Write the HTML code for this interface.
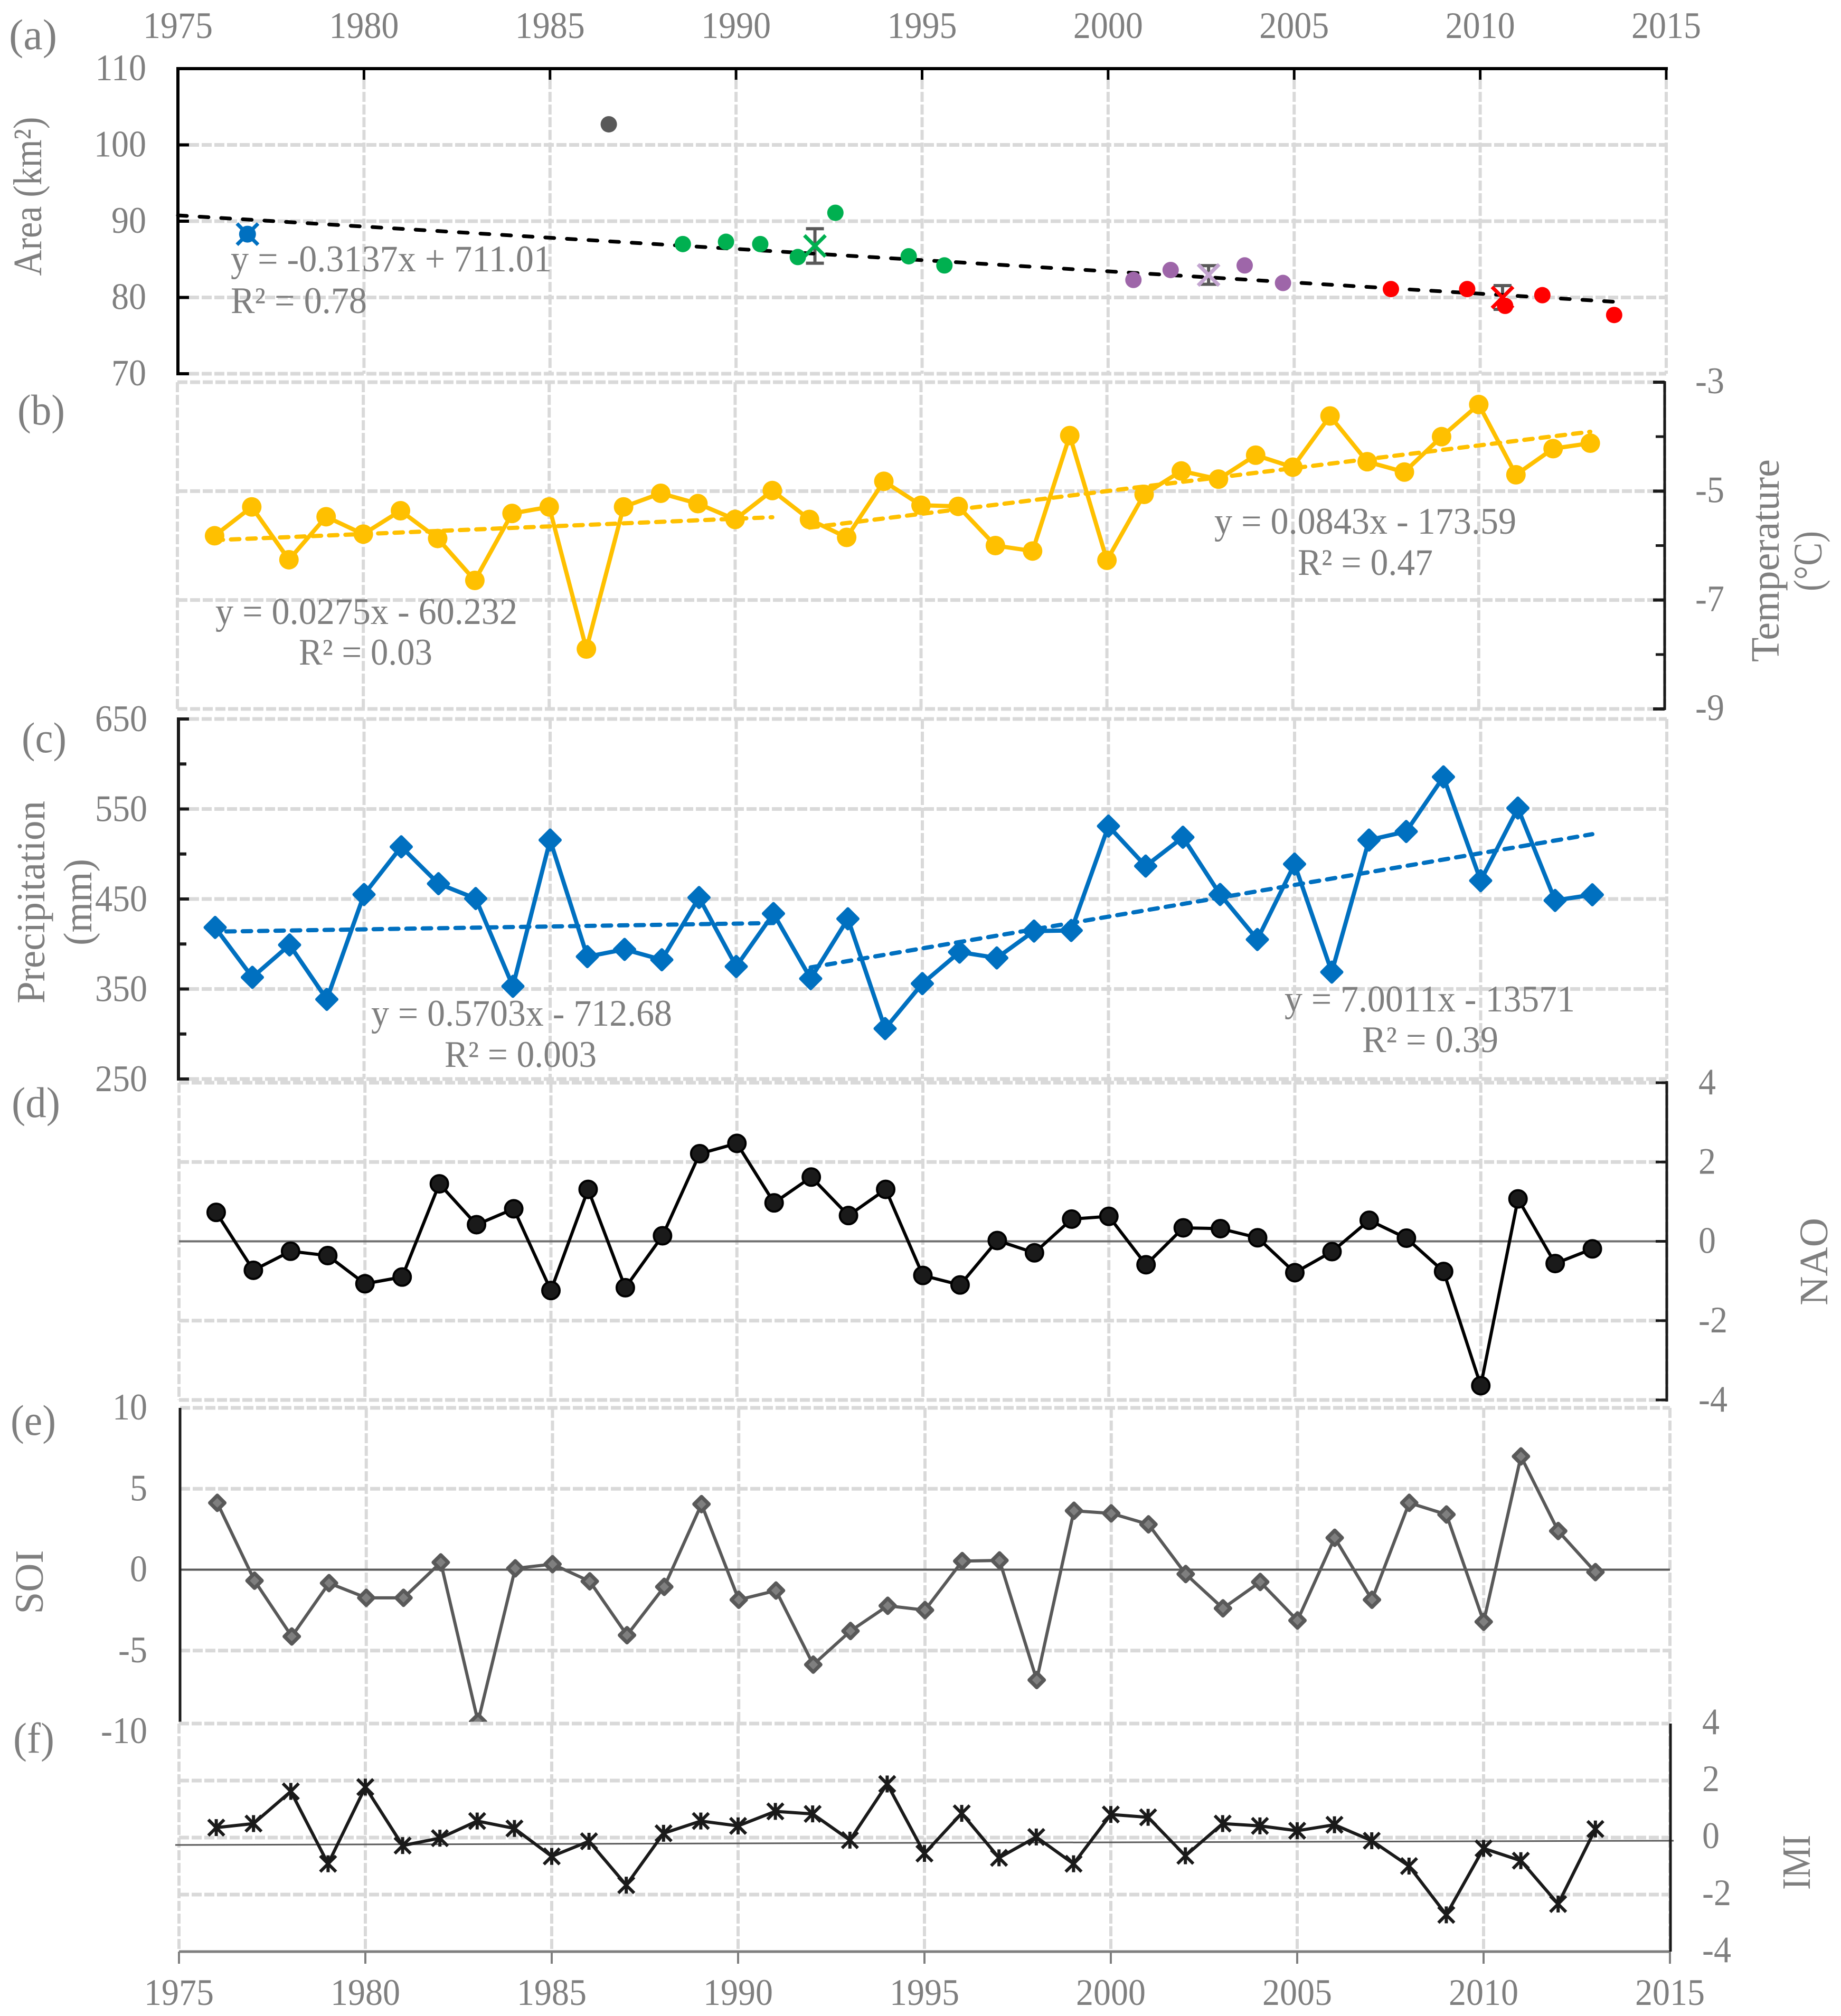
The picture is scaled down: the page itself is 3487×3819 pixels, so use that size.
<!DOCTYPE html>
<html lang="en">
<head>
<meta charset="utf-8">
<title>Climate and area time series 1975-2015</title>
<style>
html,body{margin:0;padding:0;background:#fff;}
svg{display:block;}
text{font-family:"Liberation Serif","Times New Roman",serif;fill:#7f7f7f;}
</style>
</head>
<body>
<svg id="chart" xmlns="http://www.w3.org/2000/svg" width="3487" height="3819" viewBox="0 0 3487 3819">
<defs><clipPath id="soi-clip"><rect x="300" y="2640" width="2900" height="622"></rect></clipPath></defs>
<rect x="0" y="0" width="3487" height="3819" fill="#fff"></rect>
<g id="layer-marks"></g>
<g font-size="71">
<text x="17" y="93" font-size="82" textLength="91" lengthAdjust="spacingAndGlyphs">(a)</text>
<text x="33" y="804" font-size="82" textLength="90" lengthAdjust="spacingAndGlyphs">(b)</text>
<text x="41" y="1425" font-size="82" textLength="85" lengthAdjust="spacingAndGlyphs">(c)</text>
<text x="22" y="2116" font-size="82" textLength="92" lengthAdjust="spacingAndGlyphs">(d)</text>
<text x="20" y="2718" font-size="82" textLength="86" lengthAdjust="spacingAndGlyphs">(e)</text>
<text x="25" y="3320" font-size="82" textLength="78" lengthAdjust="spacingAndGlyphs">(f)</text>

<text x="437" y="514" textLength="608" lengthAdjust="spacingAndGlyphs">y = -0.3137x + 711.01</text>
<text x="437" y="593" textLength="258" lengthAdjust="spacingAndGlyphs">R² = 0.78</text>
<text x="408" y="1182" textLength="572" lengthAdjust="spacingAndGlyphs">y = 0.0275x - 60.232</text>
<text x="566" y="1259" textLength="253" lengthAdjust="spacingAndGlyphs">R² = 0.03</text>
<text x="2300" y="1011" textLength="572" lengthAdjust="spacingAndGlyphs">y = 0.0843x - 173.59</text>
<text x="2458" y="1089" textLength="256" lengthAdjust="spacingAndGlyphs">R² = 0.47</text>
<text x="703" y="1943" textLength="570" lengthAdjust="spacingAndGlyphs">y = 0.5703x - 712.68</text>
<text x="842" y="2021" textLength="288" lengthAdjust="spacingAndGlyphs">R² = 0.003</text>
<text x="2433" y="1916" textLength="550" lengthAdjust="spacingAndGlyphs">y = 7.0011x - 13571</text>
<text x="2580" y="1993" textLength="258" lengthAdjust="spacingAndGlyphs">R² = 0.39</text>

<text font-size="76" text-anchor="middle" transform="translate(78 372) rotate(-90)" textLength="301" lengthAdjust="spacingAndGlyphs">Area (km²)</text>
<text font-size="76" text-anchor="middle" transform="translate(3369 1062) rotate(-90)" textLength="384" lengthAdjust="spacingAndGlyphs">Temperature</text>
<text font-size="76" text-anchor="middle" transform="translate(3450 1063) rotate(-90)" textLength="114" lengthAdjust="spacingAndGlyphs">(°C)</text>
<text font-size="76" text-anchor="middle" transform="translate(84 1709) rotate(-90)" textLength="384" lengthAdjust="spacingAndGlyphs">Precipitation</text>
<text font-size="76" text-anchor="middle" transform="translate(173 1709) rotate(-90)" textLength="164" lengthAdjust="spacingAndGlyphs">(mm)</text>
<text font-size="76" text-anchor="middle" transform="translate(3461 2390) rotate(-90)" textLength="166" lengthAdjust="spacingAndGlyphs">NAO</text>
<text font-size="76" text-anchor="middle" transform="translate(81 2997) rotate(-90)" textLength="121" lengthAdjust="spacingAndGlyphs">SOI</text>
<text font-size="76" text-anchor="middle" transform="translate(3428 3528) rotate(-90)" textLength="104" lengthAdjust="spacingAndGlyphs">IMI</text>
</g>
</svg>
<script>
// ---------- shared categories and tick labels ----------
const years = [1976,1977,1978,1979,1980,1981,1982,1983,1984,1985,1986,1987,1988,1989,1990,1991,1992,1993,1994,1995,1996,1997,1998,1999,2000,2001,2002,2003,2004,2005,2006,2007,2008,2009,2010,2011,2012,2013];
const xTickYears = [1975,1980,1985,1990,1995,2000,2005,2010,2015];
const areaTicks = [110,100,90,80,70];
const temperatureTicks = [-3,-5,-7,-9];
const temperatureMinorTicks = [-4,-6,-8];
const precipitationTicks = [650,550,450,350,250];
const precipitationMinorTicks = [600,500,400,300];
const naoTicks = [4,2,0,-2,-4];
const soiTicks = [10,5,0,-5,-10];
const imiTicks = [4,2,0,-2,-4];

// ---------- panel (a) area ----------
const outlierYears = [1986.58];
const outlierAreas = [102.7];
const greenYears = [1988.57,1989.73,1990.65,1991.66,1992.67,1994.64,1995.6];
const greenAreas = [87.0,87.3,87.0,85.3,91.1,85.4,84.2];
const purpleYears = [2000.68,2001.68,2003.67,2004.7];
const purpleAreas = [82.3,83.6,84.2,81.9];
const redYears = [2007.6,2009.65,2010.67,2011.67,2013.6];
const redAreas = [81.1,81.1,78.9,80.3,77.7];
const meanYears = [1976.87,1992.12,2002.7,2010.6];
const meanAreas = [88.3,86.75,82.95,80.0];
const meanErrors = [0.5,2.26,1.22,1.56];
const areaTrendYears = [1975,2013.9];
const areaTrendValues = [90.76,79.35];

// ---------- panel (b) temperature ----------
const temperature = [-5.82,-5.29,-6.26,-5.47,-5.79,-5.36,-5.87,-6.64,-5.41,-5.29,-7.90,-5.29,-5.04,-5.23,-5.52,-4.99,-5.52,-5.85,-4.82,-5.26,-5.28,-6.0,-6.10,-3.98,-6.27,-5.06,-4.63,-4.78,-4.34,-4.56,-3.62,-4.46,-4.65,-4.0,-3.41,-4.70,-4.22,-4.12];
const temperatureTrend1Years = [1976,1991];
const temperatureTrend1Values = [-5.9,-5.48];
const temperatureTrend2Years = [1992,2013];
const temperatureTrend2Values = [-5.67,-3.91];

// ---------- panel (c) precipitation ----------
const precipitation = [418.4,363,399,338.5,455,508,467,450.5,353,515.5,386,394,382.5,451.6,375,433.8,361.5,428,306,356,391,384.5,414.4,415,531,486.6,518.6,455,405,488.8,368.8,515.5,525,585.6,470.4,551,448.4,454.7];
const precipitationTrend1Years = [1976.3,1991];
const precipitationTrend1Values = [413.9,423.3];
const precipitationTrend2Years = [1992,2013];
const precipitationTrend2Values = [374,522];

// ---------- panel (d) NAO ----------
const nao = [0.73,-0.73,-0.25,-0.36,-1.07,-0.90,1.45,0.42,0.82,-1.24,1.31,-1.17,0.14,2.21,2.47,0.97,1.62,0.65,1.31,-0.86,-1.10,0.02,-0.29,0.56,0.63,-0.59,0.34,0.32,0.09,-0.79,-0.26,0.53,0.08,-0.76,-3.64,1.07,-0.56,-0.19];

// ---------- panel (e) SOI ----------
const soi = [4.13,-0.68,-4.13,-0.83,-1.74,-1.74,0.45,-9.4,0.08,0.34,-0.72,-4.05,-1.06,4.05,-1.86,-1.29,-5.87,-3.79,-2.23,-2.5,0.53,0.57,-6.82,3.64,3.48,2.80,-0.27,-2.39,-0.76,-3.14,1.97,-1.86,4.13,3.41,-3.22,7.0,2.39,-0.15];

// ---------- panel (f) IMI ----------
const imi = [0.35,0.49,1.62,-0.92,1.77,-0.28,-0.02,0.58,0.32,-0.66,-0.13,-1.67,0.15,0.58,0.41,0.92,0.83,-0.09,1.88,-0.56,0.85,-0.71,0.02,-0.92,0.81,0.71,-0.64,0.49,0.41,0.24,0.45,-0.11,-1.0,-2.71,-0.38,-0.81,-2.33,0.30];
const imiZeroLineYears = [1974.9,2015.1];
const imiZeroLineValues = [-0.26,-0.11];

// ---------- helpers ----------
const NS = 'http://www.w3.org/2000/svg';
const root = document.getElementById('layer-marks');
const GRID = '#d9d9d9', INK = '#1a1a1a', TXT = 71, SX = 0.93;

function mk(parent, tag, name, attrs) {
  const el = document.createElementNS(NS, tag);
  
  
  for (const k in attrs) el.setAttribute(k, attrs[k]);
  parent.appendChild(el);
  return el;
}
function scaleX(x0, x1) { return yr => x0 + (x1 - x0) * (yr - 1975) / 40; }
function scaleY(vTop, pTop, vBot, pBot) { return v => pTop + (pBot - pTop) * (v - vTop) / (vBot - vTop); }
function seg(p, name, x1, y1, x2, y2, stroke, w, extra) {
  return mk(p, 'line', name, Object.assign({x1, y1, x2, y2, stroke, 'stroke-width': w}, extra || {}));
}
function gridH(p, name, x1, x2, y) { seg(p, name, x1, y, x2, y, GRID, 7, {'stroke-dasharray': '19 5'}); }
function gridV(p, name, x, y1, y2) { seg(p, name, x, y1, x, y2, GRID, 6, {'stroke-dasharray': '19 5'}); }
function label(p, name, x, y, str, anchor) {
  const t = mk(p, 'text', name, {'text-anchor': anchor, 'font-size': TXT, transform: 'translate(' + x + ' ' + y + ') scale(' + SX + ' 1)'});
  t.textContent = str;
  return t;
}
function polyline(p, name, xs, ys, stroke, w, extra) {
  const pts = xs.map((x, i) => x + ',' + ys[i]).join(' ');
  return mk(p, 'polyline', name, Object.assign({points: pts, fill: 'none', stroke, 'stroke-width': w, 'stroke-linejoin': 'round'}, extra || {}));
}

// ---------- panel A ----------
(function () {
  const g = mk(root, 'g', 'panel-a-area', {});
  const X = scaleX(337, 3156), Y = scaleY(110, 130, 70, 708);
  areaTicks.slice(1).forEach(t => gridH(g, 'area-gridline', 358, 3156, Y(t)));
  xTickYears.slice(1).forEach(t => gridV(g, 'area-vertical-gridline', X(t), 150, 708));
  seg(g, 'area-left-axis', 337, 127, 337, 711, '#000', 6);
  seg(g, 'top-x-axis', 334, 130, 3159, 130, '#000', 6);
  xTickYears.forEach(t => {
    seg(g, 'top-x-tick', X(t), 130, X(t), 151, '#000', 5);
    label(g, 'top-x-tick-label', X(t), 72, String(t), 'middle');
  });
  areaTicks.forEach(t => {
    if (t !== 110) seg(g, 'area-y-tick', 337, Y(t), 358, Y(t), '#000', 6);
    label(g, 'area-y-tick-label', 277, Y(t) + 22, String(t), 'end');
  });
  // error bars
  meanYears.forEach((yr, i) => {
    if (i === 0) return;
    const x = X(yr), t = Y(meanAreas[i] + meanErrors[i]), b = Y(meanAreas[i] - meanErrors[i]);
    seg(g, 'mean-error-bar', x, t, x, b, '#595959', 6);
    seg(g, 'mean-error-cap', x - 17, t, x + 17, t, '#595959', 6);
    seg(g, 'mean-error-cap', x - 17, b, x + 17, b, '#595959', 6);
  });
  const tx = areaTrendYears.map(X), ty = areaTrendValues.map(Y);
  seg(g, 'area-trend-line', tx[0], ty[0], tx[1], ty[1], '#000', 7, {'stroke-dasharray': '17 24', 'stroke-linecap': 'round'});
  const meanColors = ['#0070c0', '#00b050', '#c3a5d0', '#ff0000'];
  meanYears.forEach((yr, i) => {
    const x = X(yr), y = Y(meanAreas[i]), h = 20;
    const c = meanColors[i];
    if (i === 0) mk(g, 'circle', 'area-point-1977', {cx: x, cy: y, r: 16, fill: c});
    seg(g, 'mean-marker-stroke', x - h, y - h, x + h, y + h, c, 7);
    seg(g, 'mean-marker-stroke', x - h, y + h, x + h, y - h, c, 7);
  });
  function dots(xs, vs, color, name) {
    xs.forEach((yr, i) => mk(g, 'circle', name, {cx: X(yr), cy: Y(vs[i]), r: 15.5, fill: color}));
  }
  dots(outlierYears, outlierAreas, '#595959', 'area-point-gray');
  dots(greenYears, greenAreas, '#00b050', 'area-point-green');
  dots(purpleYears, purpleAreas, '#9e66a9', 'area-point-purple');
  dots(redYears, redAreas, '#ff0000', 'area-point-red');
})();

// ---------- panel B ----------
(function () {
  const g = mk(root, 'g', 'panel-b-temperature', {});
  const X = scaleX(336, 3153), Y = scaleY(-3, 724, -9, 1343);
  temperatureTicks.forEach(t => gridH(g, 'temperature-gridline', 336, 3153, Y(t)));
  xTickYears.forEach(t => gridV(g, 'temperature-vertical-gridline', X(t), 724, 1343));
  seg(g, 'temperature-right-axis', 3153, 722, 3153, 1345, INK, 5);
  temperatureTicks.forEach(t => {
    seg(g, 'temperature-y-tick', 3131, Y(t), 3153, Y(t), INK, 6);
    label(g, 'temperature-y-tick-label', 3211, Y(t) + 21, String(t), 'start');
  });
  temperatureMinorTicks.forEach(t => seg(g, 'temperature-minor-tick', 3136, Y(t), 3153, Y(t), INK, 5));
  const xs = years.map(X), ys = temperature.map(Y);
  polyline(g, 'temperature-line', xs, ys, '#ffc000', 8);
  ys.forEach((y, i) => mk(g, 'circle', 'temperature-point', {cx: xs[i], cy: y, r: 18.5, fill: '#ffc000'}));
  const d = {'stroke-dasharray': '16 15', 'stroke-linecap': 'round'};
  seg(g, 'temperature-trend-1', X(temperatureTrend1Years[0]), Y(temperatureTrend1Values[0]), X(temperatureTrend1Years[1]), Y(temperatureTrend1Values[1]), '#ffc000', 8, d);
  seg(g, 'temperature-trend-2', X(temperatureTrend2Years[0]), Y(temperatureTrend2Values[0]), X(temperatureTrend2Years[1]), Y(temperatureTrend2Values[1]), '#ffc000', 8, d);
})();

// ---------- panel C ----------
(function () {
  const g = mk(root, 'g', 'panel-c-precipitation', {});
  const X = scaleX(337, 3157), Y = scaleY(650, 1362, 250, 2044);
  precipitationTicks.forEach(t => gridH(g, 'precipitation-gridline', 358, 3157, Y(t)));
  xTickYears.slice(1).forEach(t => gridV(g, 'precipitation-vertical-gridline', X(t), 1362, 2044));
  seg(g, 'precipitation-left-axis', 338, 1359, 338, 2047, INK, 6);
  precipitationTicks.forEach(t => {
    seg(g, 'precipitation-y-tick', 338, Y(t), 358, Y(t), INK, 6);
    label(g, 'precipitation-y-tick-label', 279, Y(t) + 23, String(t), 'end');
  });
  precipitationMinorTicks.forEach(t => seg(g, 'precipitation-minor-tick', 338, Y(t), 353, Y(t), INK, 6));
  const xs = years.map(X), ys = precipitation.map(Y);
  polyline(g, 'precipitation-line', xs, ys, '#0070c0', 8);
  ys.forEach((y, i) => {
    const x = xs[i], h = 19;
    mk(g, 'polygon', 'precipitation-point', {points: x + ',' + (y - h) + ' ' + (x + h) + ',' + y + ' ' + x + ',' + (y + h) + ' ' + (x - h) + ',' + y, fill: '#0070c0', stroke: '#0070c0', 'stroke-width': 6, 'stroke-linejoin': 'round'});
  });
  const d = {'stroke-dasharray': '16 15', 'stroke-linecap': 'round'};
  seg(g, 'precipitation-trend-1', X(precipitationTrend1Years[0]), Y(precipitationTrend1Values[0]), X(precipitationTrend1Years[1]), Y(precipitationTrend1Values[1]), '#0070c0', 8, d);
  seg(g, 'precipitation-trend-2', X(precipitationTrend2Years[0]), Y(precipitationTrend2Values[0]), X(precipitationTrend2Years[1]), Y(precipitationTrend2Values[1]), '#0070c0', 8, d);
})();

// ---------- panel D ----------
(function () {
  const g = mk(root, 'g', 'panel-d-nao', {});
  const X = scaleX(339, 3157), Y = scaleY(4, 2051, -4, 2652);
  naoTicks.forEach(t => { if (t !== 0) gridH(g, 'nao-gridline', 339, 3157, Y(t)); });
  xTickYears.forEach(t => gridV(g, 'nao-vertical-gridline', X(t), 2051, 2652));
  seg(g, 'nao-zero-line', 339, Y(0), 3157, Y(0), '#6e6e6e', 4);
  seg(g, 'nao-right-axis', 3157, 2048, 3157, 2655, INK, 5);
  naoTicks.forEach(t => {
    seg(g, 'nao-y-tick', 3136, Y(t), 3157, Y(t), INK, 5);
    label(g, 'nao-y-tick-label', 3217, Y(t) + 22, String(t), 'start');
  });
  const xs = years.map(X), ys = nao.map(Y);
  polyline(g, 'nao-line', xs, ys, '#000', 6);
  ys.forEach((y, i) => mk(g, 'circle', 'nao-point', {cx: xs[i], cy: y, r: 16.5, fill: '#1a1a1a', stroke: '#000', 'stroke-width': 4}));
})();

// ---------- panel E ----------
(function () {
  const g = mk(root, 'g', 'panel-e-soi', {});
  const X = scaleX(341, 3163), Y = scaleY(10, 2667, -10, 3280);
  soiTicks.forEach(t => { if (t !== 0 && t !== -10) gridH(g, 'soi-gridline', 341, 3163, Y(t)); });
  xTickYears.slice(1).forEach(t => gridV(g, 'soi-vertical-gridline', X(t), 2667, 3264));
  seg(g, 'soi-zero-line', 341, Y(0), 3163, Y(0), '#595959', 4);
  seg(g, 'soi-left-axis', 341, 2667, 341, 3262, INK, 5);
  soiTicks.forEach(t => label(g, 'soi-y-tick-label', 279, Y(t) + 22, String(t), 'end'));
  const clip = mk(g, 'g', 'soi-series', {'clip-path': 'url(#soi-clip)'});
  const xs = years.map(X), ys = soi.map(Y);
  polyline(clip, 'soi-line', xs, ys, '#595959', 6);
  ys.forEach((y, i) => {
    const x = xs[i], h = 14;
    mk(clip, 'polygon', 'soi-point', {points: x + ',' + (y - h) + ' ' + (x + h) + ',' + y + ' ' + x + ',' + (y + h) + ' ' + (x - h) + ',' + y, fill: '#7f7f7f', stroke: '#595959', 'stroke-width': 7, 'stroke-linejoin': 'round'});
  });
})();

// ---------- panel F ----------
(function () {
  const g = mk(root, 'g', 'panel-f-imi', {});
  const X = scaleX(339, 3163), Y = scaleY(4, 3265, -4, 3697);
  imiTicks.slice(0, 4).forEach(t => gridH(g, 'imi-gridline', 339, 3163, Y(t)));
  xTickYears.forEach(t => gridV(g, 'imi-vertical-gridline', X(t), 3265, 3697));
  seg(g, 'imi-zero-line', X(imiZeroLineYears[0]), Y(imiZeroLineValues[0]), X(imiZeroLineYears[1]), Y(imiZeroLineValues[1]), '#595959', 3);
  seg(g, 'bottom-x-axis', 339, 3697, 3164, 3697, '#7f7f7f', 5);
  seg(g, 'imi-right-axis', 3164, 3265, 3164, 3697, INK, 5);
  imiTicks.forEach(t => label(g, 'imi-y-tick-label', 3224, Y(t) + 20, String(t), 'start'));
  xTickYears.forEach(t => {
    seg(g, 'bottom-x-tick', X(t), 3697, X(t), 3720, '#7f7f7f', 4);
    label(g, 'bottom-x-tick-label', X(t), 3798, String(t), 'middle');
  });
  const xs = years.map(X), ys = imi.map(Y);
  polyline(g, 'imi-line', xs, ys, INK, 6);
  ys.forEach((y, i) => {
    const x = xs[i], h = 15;
    const m = mk(g, 'g', 'imi-point', {});
    seg(m, 'imi-point-stroke', x - h, y - h, x + h, y + h, INK, 6);
    seg(m, 'imi-point-stroke', x - h, y + h, x + h, y - h, INK, 6);
    seg(m, 'imi-point-stroke', x, y - 16, x, y + 16, INK, 6);
  });
})();
</script>
</body>
</html>
